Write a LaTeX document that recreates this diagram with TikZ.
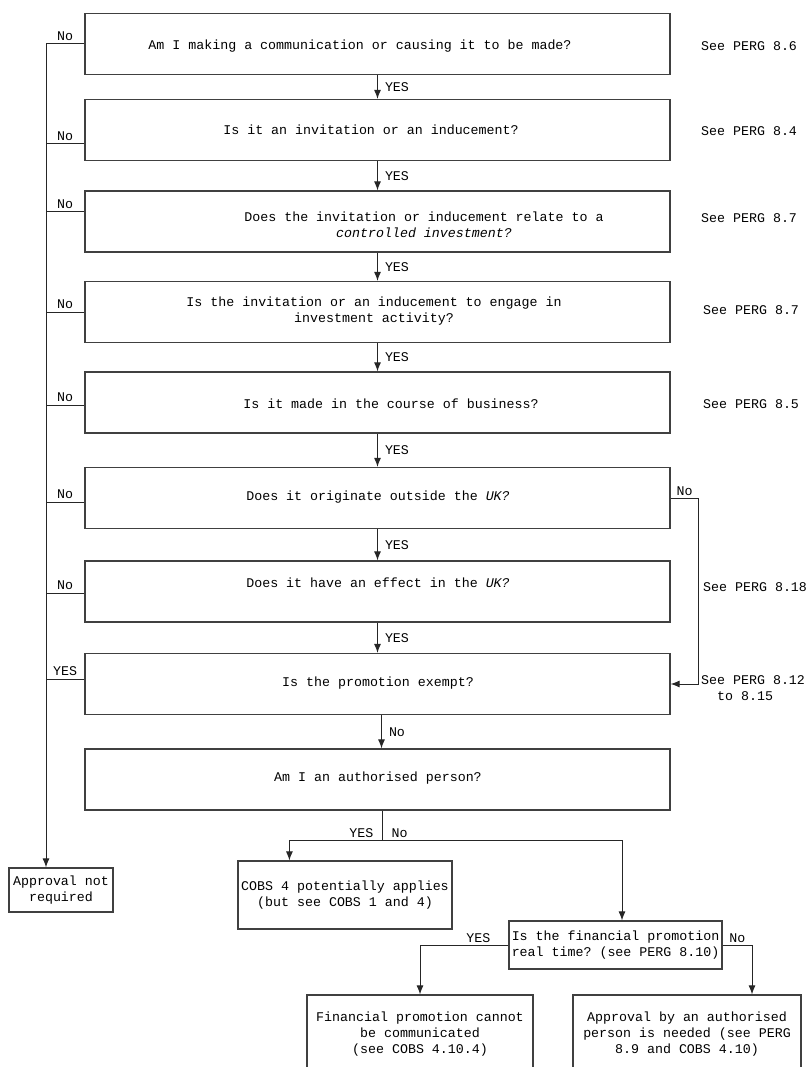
\documentclass[tikz,border=0pt]{standalone}
\usepackage{fontspec}
\setmonofont{Liberation Mono}
\usetikzlibrary{arrows.meta, positioning, calc}
\tikzset{
    qbox/.style={draw=black!75, line width=1.2pt, minimum width=585pt, minimum height=61pt, inner sep=0pt},
    abox/.style={draw=black!75, line width=1.2pt, align=center, inner sep=1pt},
    lab/.style={inner sep=2pt},
    wire/.style={draw=black!85, line width=1pt},
    arr/.style={wire, -{Latex[length=9pt,width=7pt]}}
}

\begin{document}
\begin{tikzpicture}[x=1pt, y=-1pt]
    \tikzstyle{every node}=[font=\ttfamily\fontsize{13.3}{16}\selectfont, text=black];
    \useasboundingbox (0,0) rectangle (808,1067);
    % question boxes
    \foreach \i/\y in {1/44, 2/130, 3/221.5, 4/312, 5/402.5, 6/498, 7/591.5, 8/684, 9/779.5}
        \node[qbox] (q\i) at (377.5,\y) {};
    \node (q1t) at (360,46) {Am I making a communication or causing it to be made?};
    \node (q2t) at (371,130) {Is it an invitation or an inducement?};
    \node[align=center] (q3t) at (424,225) {Does the invitation or inducement relate to a\\\textit{controlled investment?}};
    \node[align=center] (q4t) at (374,311) {Is the invitation or an inducement to engage in\\investment activity?};
    \node (q5t) at (391,404) {Is it made in the course of business?};
    \node (q6t) at (378,497) {Does it originate outside the \textit{UK?}};
    \node (q7t) at (378,583) {Does it have an effect in the \textit{UK?}};
    \node (q8t) at (378,683) {Is the promotion exempt?};
    \node (q9t) at (378,778) {Am I an authorised person?};
    % references on the right
    \node[lab, anchor=west] (s1) at (699,46) {See PERG 8.6};
    \node[lab, anchor=west] (s2) at (699,131) {See PERG 8.4};
    \node[lab, anchor=west] (s3) at (699,218) {See PERG 8.7};
    \node[lab, anchor=west] (s4) at (701,310) {See PERG 8.7};
    \node[lab, anchor=west] (s5) at (701,404) {See PERG 8.5};
    \node[lab, anchor=west] (s6) at (701,587) {See PERG 8.18};
    \node[lab, anchor=west, align=left] (s7) at (699,688) {See PERG 8.12\\\hspace*{16pt}to 8.15};
    % outcomes
    \node[abox, minimum width=104pt, minimum height=44pt] (ok) at (61,890) {Approval not\\required};
    \node[abox, minimum width=214pt, minimum height=68pt] (cobs) at (345,895) {COBS 4 potentially applies\\(but see COBS 1 and 4)};
    \node[abox, minimum width=213pt, minimum height=48pt] (rt) at (615.5,945) {Is the financial promotion\\real time? (see PERG 8.10)};
    \node[abox, minimum width=226pt, minimum height=78pt] (bl) at (420,1034) {Financial promotion cannot\\be communicated\\(see COBS 4.10.4)};
    \node[abox, minimum width=228pt, minimum height=78pt] (br) at (687,1034) {Approval by an authorised\\person is needed (see PERG\\8.9 and COBS 4.10)};
    % main chain
    \foreach \i/\j in {1/2, 2/3, 3/4, 4/5, 5/6, 6/7, 7/8}
        \draw[arr] (q\i) -- node[lab, right, xshift=5pt] (yes\i) {YES} (q\j);
    \draw[arr] ([xshift=4pt]q8.south) -- node[lab, right, xshift=5pt] (no8) {No} ([xshift=4pt]q9.north);
    % exits on the left
    \foreach \i/\y/\t in {1/44/No, 2/144/No, 3/212/No, 4/312/No, 5/405/No, 6/502/No, 7/593/No, 8/679/YES}{
        \coordinate (n\i) at (46,\y);
        \draw[wire] (n\i) -- node[lab, above, inner sep=3pt] (nl\i) {\t} (n\i -| q\i.west);
    }
    \draw[arr] (n1) -- (n1 |- ok.north);
    % loop on the right
    \draw[arr] (q6.east) -- node[lab, above] (no6) {No} ++(28,0) |- (q8.east);
    % split below
    \coordinate (sp) at ($(q9.south)+(5,30)$);
    \draw[wire] ([xshift=5pt]q9.south) -- (sp);
    \draw[arr] (sp) -| ([xshift=52pt]cobs.north west);
    \draw[arr] (sp) -| ([xshift=6.5pt]rt.north);
    \node[lab, anchor=south east, inner sep=3pt] (yes9) at ([xshift=-6pt]sp) {YES};
    \node[lab, anchor=south west, inner sep=3pt] (no9) at ([xshift=6pt]sp) {No};
    \draw[arr] (rt.west) -| node[lab, above, pos=0.17] (yes10) {YES} (bl.north);
    \draw[arr] (rt.east) -| node[lab, above, pos=0.25] (no10) {No} ([xshift=65pt]br.north);
\end{tikzpicture}
\end{document}
